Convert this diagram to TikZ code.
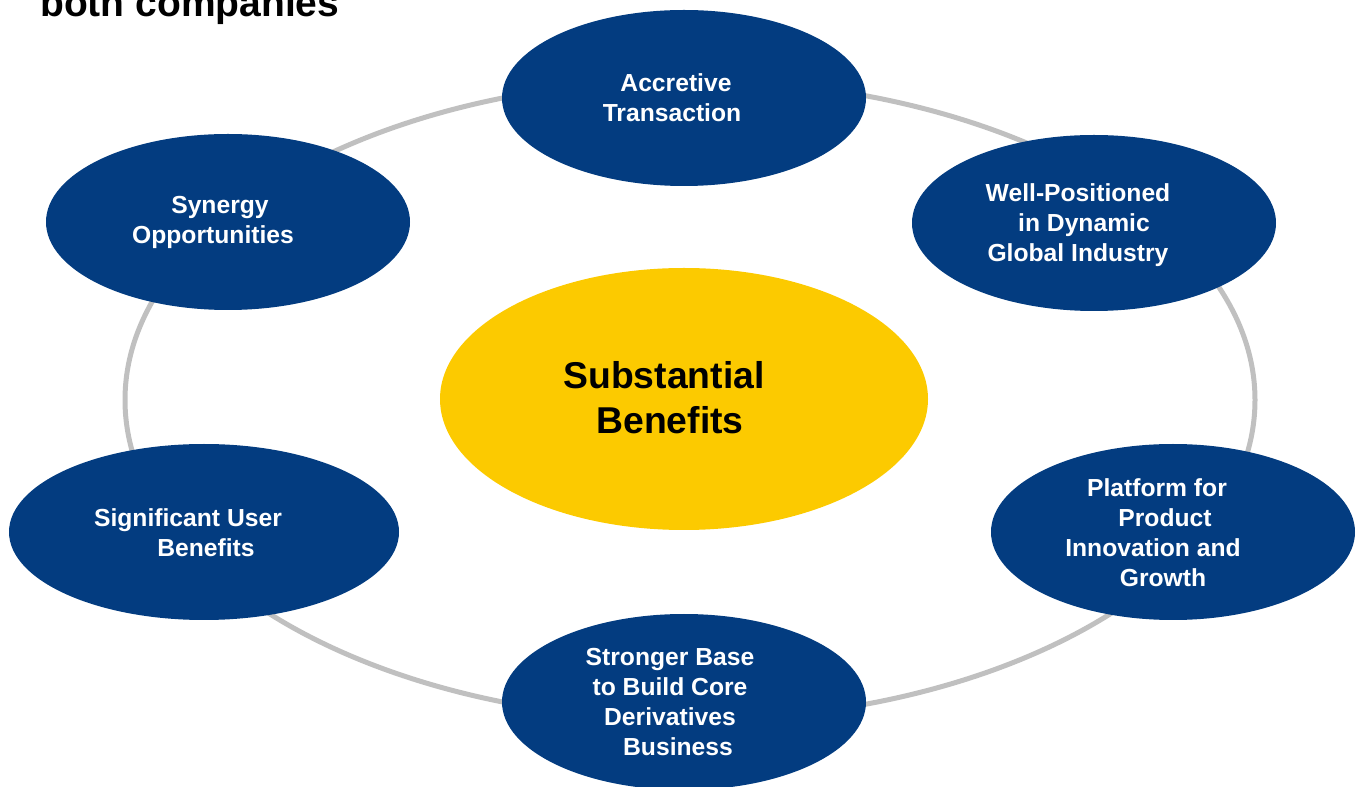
\documentclass[tikz,border=0pt]{standalone}
\usepackage{fontspec}
\setmainfont{Liberation Sans}
\usetikzlibrary{shapes.geometric,calc}

\definecolor{navy}{RGB}{3,60,128}
\definecolor{gold}{RGB}{252,202,0}
\definecolor{ring}{RGB}{192,192,192}

\begin{document}
\begin{tikzpicture}[x=0.75pt,y=-0.75pt,
  blob/.style={ellipse,fill=navy,draw=none,inner sep=0pt,
    minimum width=273pt,minimum height=132pt},
  core/.style={ellipse,fill=gold,draw=none,inner sep=0pt,
    minimum width=366pt,minimum height=196.5pt},
  blobtext/.style={text=white,align=center,inner sep=0pt,
    font=\bfseries\fontsize{18.5}{22.5}\selectfont},
  coretext/.style={text=black,align=center,inner sep=0pt,
    font=\bfseries\fontsize{28}{33.75}\selectfont},
  loop/.style={draw=ring,line width=3.75pt}]

\useasboundingbox (0,0) rectangle (1361,787);

% heading, cut by the top edge of the page
\node[anchor=base west,inner sep=0pt,font=\bfseries\fontsize{29.25}{34}\selectfont]
  (head) at (40,16.5) {both companies};

% grey ring that links the six benefit ovals
\coordinate (hub) at (690,400);
\draw[loop] (hub) ellipse [x radius=565, y radius=320];

% central oval
\node[core] (sub) at (684,399) {};
\node[coretext] (subT) at ($(sub.center)+(-20,-1)$)
  {Substantial\\\hspace*{9pt}Benefits};

% benefit ovals
\node[blob] (acc) at (684,98) {};
\node[blob] (well) at (1094,223) {};
\node[blob] (syn) at (228,222) {};
\node[blob,minimum width=292.5pt] (user) at (204,532) {};
\node[blob] (plat) at (1173,532) {};
\node[blob] (base) at (684,702) {};

\node[blobtext] (accT) at ($(acc.center)+(-12,0)$)
  {\hspace*{6pt}Accretive\\Transaction};
\node[blobtext] (wellT) at ($(well.center)+(-16,2)$)
  {Well-Positioned\\\hspace*{9pt}in Dynamic\\Global Industry};
\node[blobtext] (synT) at ($(syn.center)+(-15,0)$)
  {\hspace*{10.5pt}Synergy\\Opportunities};
\node[blobtext] (userT) at ($(user.center)+(-16,0.5)$)
  {Significant User\\\hspace*{27pt}Benefits};
\node[blobtext] (platT) at ($(plat.center)+(-20,1)$)
  {\hspace*{6pt}Platform for\\\hspace*{18pt}Product\\Innovation and\\\hspace*{15pt}Growth};
\node[blobtext] (baseT) at ($(base.center)+(-14,0.5)$)
  {Stronger Base\\to Build Core\\Derivatives\\\hspace*{12pt}Business};

\end{tikzpicture}
\end{document}
